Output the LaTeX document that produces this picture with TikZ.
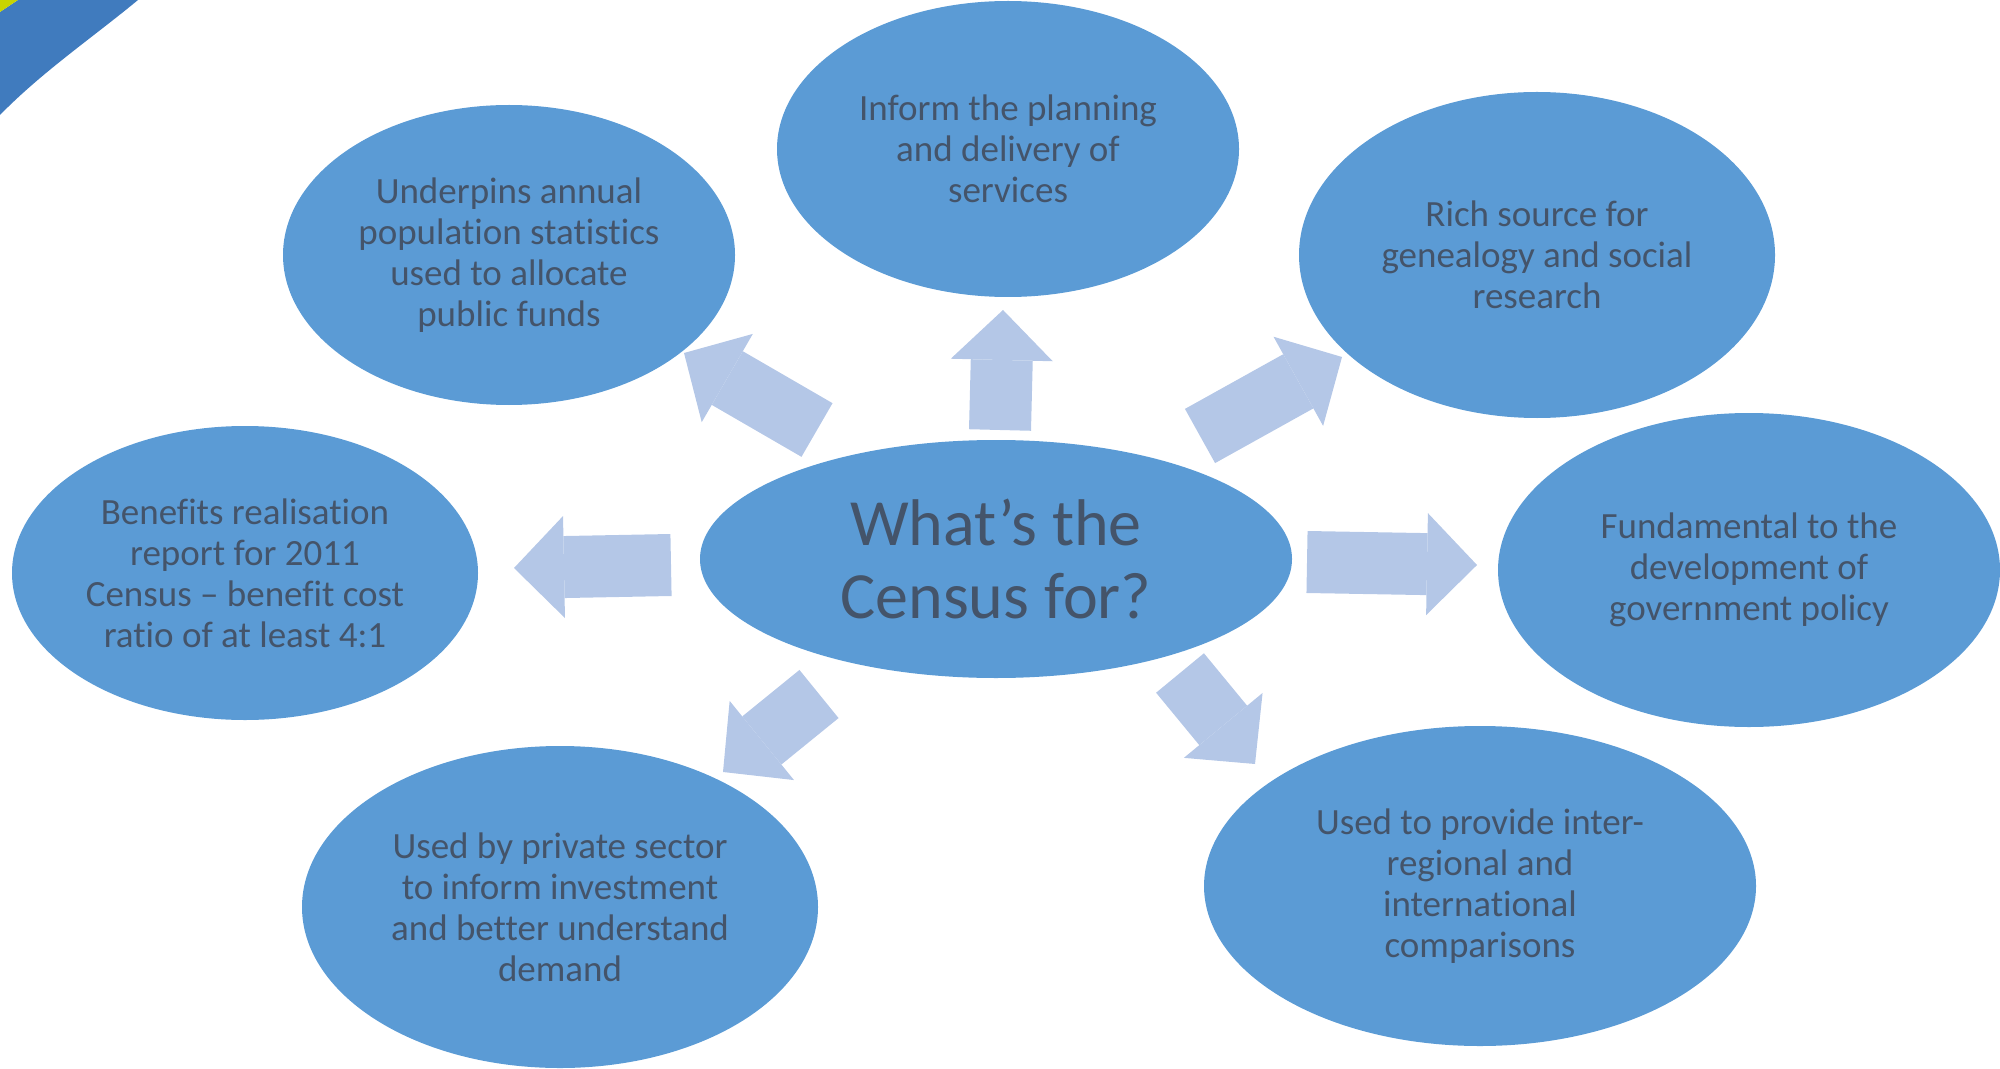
\documentclass[tikz,border=0pt]{standalone}
\usepackage{fontspec}
\setmainfont{Carlito}[Ligatures=NoCommon]
\usepackage{tikz}
\usetikzlibrary{arrows.meta,shapes.geometric}

\definecolor{bubble}{HTML}{5B9BD5}
\definecolor{pale}{HTML}{B4C7E7}
\definecolor{ink}{HTML}{44546A}
\definecolor{cornerblue}{HTML}{407BBE}
\definecolor{corneryellow}{HTML}{C8D400}

\begin{document}
\begin{tikzpicture}[x=0.5pt,y=-0.5pt,
		bubble/.style={ellipse,fill=bubble,text=ink,align=center,inner sep=0pt,
			font=\fontsize{18.5}{20.5}\selectfont},
		blockarrow/.style={draw=pale,line width=31pt,
			-{Triangle[width=51pt,length=25pt,line width=0pt]}}]
		\clip (0,0) rectangle (2000,1069);
		\useasboundingbox (0,0) rectangle (2000,1069);

		\fill[cornerblue] (0,12) -- (18,0) -- (138,0) .. controls (92,38) and (42,72) .. (0,115) -- cycle;
		\fill[corneryellow] (0,0) -- (18,0) -- (0,12) -- cycle;

		\node[bubble,minimum width=296pt,minimum height=119pt,
			font=\fontsize{33}{36.5}\selectfont] (census) at (996,559) {What’s the\\Census for?};
		\node[bubble,minimum width=231pt,minimum height=148pt] (services) at (1008,149) {Inform the planning\\and delivery of\\services};
		\node[bubble,minimum width=226pt,minimum height=150pt] (funds) at (509,255) {Underpins annual\\population statistics\\used to allocate\\public funds};
		\node[bubble,minimum width=238pt,minimum height=163pt] (genealogy) at (1537,255) {Rich source for\\genealogy and social\\research};
		\node[bubble,minimum width=233pt,minimum height=147pt] (benefits) at (245,573) {Benefits realisation\\report for 2011\\Census – benefit cost\\ratio of at least 4:1};
		\node[bubble,minimum width=251pt,minimum height=157pt] (policy) at (1749,570) {Fundamental to the\\development of\\government policy};
		\node[bubble,minimum width=258pt,minimum height=161pt] (sector) at (560,907) {Used by private sector\\to inform investment\\and better understand\\demand};
		\node[bubble,minimum width=276pt,minimum height=160pt] (compare) at (1480,886) {Used to provide inter-\\regional and\\international\\comparisons};

		\coordinate (up-tail) at (1000,430);
		\coordinate (up-tip) at (1003,310);
		\coordinate (ul-tail) at (817,430);
		\coordinate (ul-tip) at (684,353);
		\coordinate (ur-tail) at (1200,436);
		\coordinate (ur-tip) at (1342,357);
		\coordinate (l-tail) at (671,565);
		\coordinate (l-tip) at (514,568);
		\coordinate (r-tail) at (1307,562);
		\coordinate (r-tip) at (1477,565);
		\coordinate (dl-tail) at (819,694);
		\coordinate (dl-tip) at (723,772);
		\coordinate (dr-tail) at (1180,673);
		\coordinate (dr-tip) at (1255,764);

		\draw[blockarrow] (up-tail) -- (up-tip);
		\draw[blockarrow] (ul-tail) -- (ul-tip);
		\draw[blockarrow] (ur-tail) -- (ur-tip);
		\draw[blockarrow] (l-tail) -- (l-tip);
		\draw[blockarrow] (r-tail) -- (r-tip);
		\draw[blockarrow] (dl-tail) -- (dl-tip);
		\draw[blockarrow] (dr-tail) -- (dr-tip);
	\end{tikzpicture}
\end{document}
